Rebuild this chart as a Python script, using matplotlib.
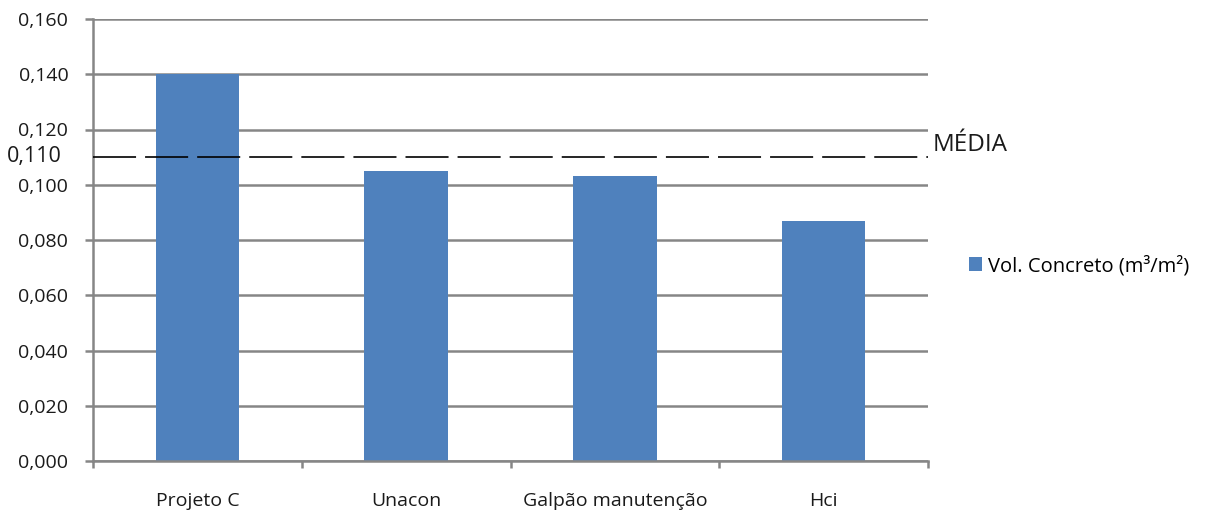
import matplotlib
matplotlib.use("Agg")
import matplotlib.pyplot as plt
import numpy as np

categories = ["Projeto C", "Unacon", "Galpão manutenção", "Hci"]
values = [0.140, 0.105, 0.103, 0.087]
mean_value = 0.110
series_name = "Vol. Concreto (m³/m²)"
yticks = [0.000, 0.020, 0.040, 0.060, 0.080, 0.100, 0.120, 0.140, 0.160]

plt.rcParams['font.family'] = ['Open Sans', 'DejaVu Sans']
plt.rcParams['lines.scale_dashes'] = False

W, H = 1220, 518
fig = plt.figure(figsize=(W / 100, H / 100), dpi=100)
ax = fig.add_axes([93 / W, 1 - 461 / H, (928 - 93) / W, (461 - 19) / H])

x = np.arange(len(categories))
grid_c = "#868686"
text_c = "#1a1a1a"
ax.set_ylim(0, 0.160)
ax.set_xlim(-0.5, len(categories) - 0.5)
ax.set_yticks(yticks)
ax.set_yticklabels([f"{v:.3f}".replace(".", ",") for v in yticks], fontsize=14, color=text_c)
ax.yaxis.grid(True, color=grid_c, linewidth=1.8)
ax.set_axisbelow(True)

ax.bar(x, values, width=0.4, color="#4f81bd", label=series_name, zorder=2)

ax.axhline(mean_value, color="black", linewidth=1.2, dashes=(31, 6.5), zorder=3)
ax.text(1.006, mean_value + 0.0023, "MÉDIA", transform=ax.get_yaxis_transform(),
        fontsize=17.5, va="baseline", ha="left", color=text_c)
ax.text(7 / W, 1 - 156.5 / H, f"{mean_value:.3f}".replace(".", ","),
        transform=fig.transFigure, fontsize=15.5, va="center", ha="left", color=text_c)

for s in ["top", "right"]:
    ax.spines[s].set_visible(False)
for s in ["left", "bottom"]:
    ax.spines[s].set_color(grid_c)
    ax.spines[s].set_linewidth(1.8)

ax.tick_params(axis="y", length=5.8, width=1.8, color=grid_c, pad=12)
ax.set_xticks(np.arange(-0.5, len(categories)))
ax.set_xticklabels([])
ax.tick_params(axis="x", which="major", length=5, width=1.8, color=grid_c)
ax.set_xticks(x, minor=True)
ax.set_xticklabels(categories, minor=True, fontsize=14, color=text_c)
ax.tick_params(axis="x", which="minor", length=0, pad=22)

ax.legend(loc="center left", bbox_to_anchor=(969 / W, 1 - 266 / H),
          bbox_transform=fig.transFigure, frameon=False, borderpad=0, borderaxespad=0,
          fontsize=14.5, handlelength=0.65, handleheight=0.65, handletextpad=0.3)

fig.savefig("out.png", dpi=100)
